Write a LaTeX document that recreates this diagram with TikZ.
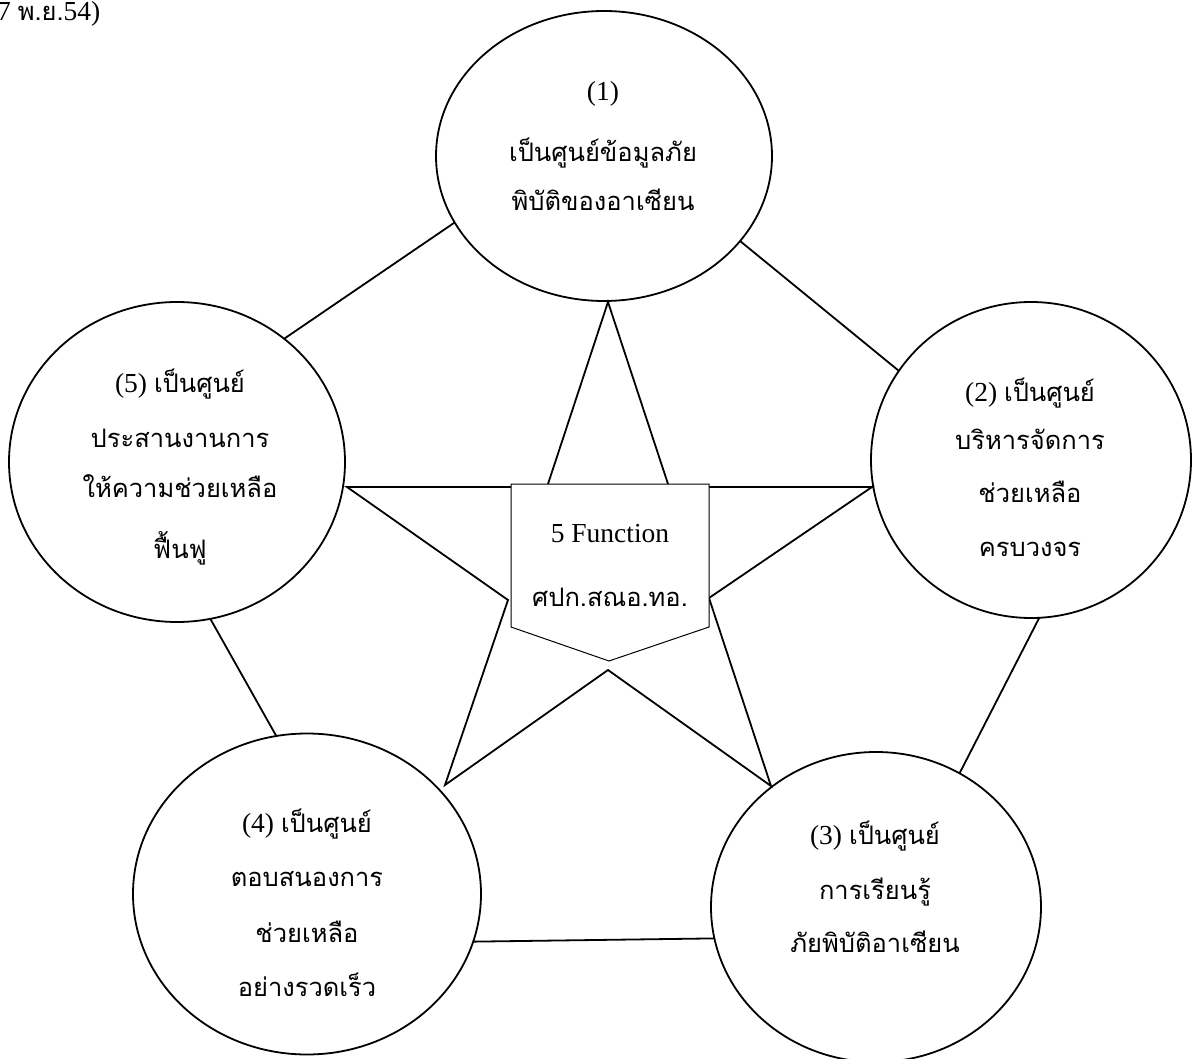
\documentclass[tikz,border=0pt]{standalone}
\usepackage{fontspec}
\setmainfont{Liberation Serif}
\newfontfamily\thaifont[Script=Thai]{Loma}
\usetikzlibrary{shapes.geometric}
\newcommand\thtext[1]{{\thaifont\fontsize{25.5}{30}\selectfont #1}}
\begin{document}
\begin{tikzpicture}[x=1pt,y=-1pt,
  ell/.style={ellipse, draw, line width=1.8pt, inner sep=0pt, outer sep=0pt},
  lbl/.style={anchor=base, inner sep=0pt, font=\fontsize{27.5}{32}\selectfont},
  link/.style={line width=1.8pt},
  starline/.style={line width=1.8pt, line join=miter},
  boxline/.style={draw, line width=1pt, fill=white}]
\useasboundingbox (0,0) rectangle (1200,1059);

% header fragment
\node[lbl, anchor=base west] (hdr) at (-3,21) {7 \thtext{พ.ย.}54)};

% star
\coordinate (sT) at (608,302);
\coordinate (sTR) at (669,487);
\coordinate (sR) at (872,487);
\coordinate (sBRi) at (709,598);
\coordinate (sBR) at (771,786);
\coordinate (sB) at (608,670);
\coordinate (sBL) at (445,785);
\coordinate (sBLi) at (508,600);
\coordinate (sL) at (347,487);
\coordinate (sTL) at (547,487);
\draw[starline] (sT) -- (sTR) -- (sR) -- (sBRi) -- (sBR) -- (sB) -- (sBL) -- (sBLi) -- (sL) -- (sTL) -- cycle;

% centre box
\draw[boxline] (511,484) -- (709,484) -- (709,627) -- (609,661) -- (511,627) -- cycle;
\node[lbl] (bx1) at (610,542) {5 Function};
\node[lbl] (bx2) at (610,606) {\thtext{ศปก.สณอ.ทอ.}};

% circles
\node[ell, minimum width=336pt, minimum height=290pt] (c1) at (604,156) {};
\node[ell, minimum width=320pt, minimum height=316pt] (c2) at (1031,460) {};
\node[ell, minimum width=330pt, minimum height=310pt] (c3) at (876,907) {};
\node[ell, minimum width=348pt, minimum height=321pt] (c4) at (307,894) {};
\node[ell, minimum width=336pt, minimum height=320pt] (c5) at (177,462) {};

% texts
\node[lbl] (t1a) at (603,101) {(1)};
\node[lbl] (t1b) at (603,162) {\thtext{เป็นศูนย์ข้อมูลภัย}};
\node[lbl] (t1c) at (603,211) {\thtext{พิบัติของอาเซียน}};

\node[lbl] (t2a) at (1030,402) {(2) \thtext{เป็นศูนย์}};
\node[lbl] (t2b) at (1030,449) {\thtext{บริหารจัดการ}};
\node[lbl] (t2c) at (1030,502) {\thtext{ช่วยเหลือ}};
\node[lbl] (t2d) at (1030,556) {\thtext{ครบวงจร}};

\node[lbl] (t3a) at (875,844) {(3) \thtext{เป็นศูนย์}};
\node[lbl] (t3b) at (875,899) {\thtext{การเรียนรู้}};
\node[lbl] (t3c) at (875,952) {\thtext{ภัยพิบัติอาเซียน}};

\node[lbl] (t4a) at (307,832) {(4) \thtext{เป็นศูนย์}};
\node[lbl] (t4b) at (307,886) {\thtext{ตอบสนองการ}};
\node[lbl] (t4c) at (307,942) {\thtext{ช่วยเหลือ}};
\node[lbl] (t4d) at (307,996) {\thtext{อย่างรวดเร็ว}};

\node[lbl] (t5a) at (180,392) {(5) \thtext{เป็นศูนย์}};
\node[lbl] (t5b) at (180,447) {\thtext{ประสานงานการ}};
\node[lbl] (t5c) at (180,497) {\thtext{ให้ความช่วยเหลือ}};
\node[lbl] (t5d) at (180,558) {\thtext{ฟื้นฟู}};

% connectors between circles
\draw[link] (c1.204.8) -- (c5.49.9);
\draw[link] (c1.328.3) -- (c2.146.6);
\draw[link] (c2.273.8) -- (c3.58.8);
\draw[link] (c3.191.9) -- (c4.344.6);
\draw[link] (c4.101.9) -- (c5.282.5);
\end{tikzpicture}
\end{document}
